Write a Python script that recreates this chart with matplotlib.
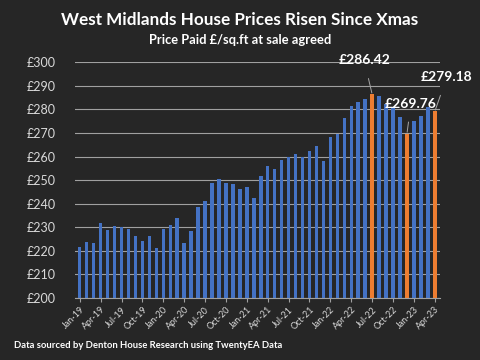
import numpy as np
import matplotlib
matplotlib.use("Agg")
import matplotlib.pyplot as plt

plt.rcParams['font.family'] = ['Lato', 'DejaVu Sans']

# monthly price paid £/sq.ft, Jan-19 .. Apr-23
months = ['Jan-19', 'Feb-19', 'Mar-19', 'Apr-19', 'May-19', 'Jun-19', 'Jul-19', 'Aug-19',
          'Sep-19', 'Oct-19', 'Nov-19', 'Dec-19', 'Jan-20', 'Feb-20', 'Mar-20', 'Apr-20',
          'May-20', 'Jun-20', 'Jul-20', 'Aug-20', 'Sep-20', 'Oct-20', 'Nov-20', 'Dec-20',
          'Jan-21', 'Feb-21', 'Mar-21', 'Apr-21', 'May-21', 'Jun-21', 'Jul-21', 'Aug-21',
          'Sep-21', 'Oct-21', 'Nov-21', 'Dec-21', 'Jan-22', 'Feb-22', 'Mar-22', 'Apr-22',
          'May-22', 'Jun-22', 'Jul-22', 'Aug-22', 'Sep-22', 'Oct-22', 'Nov-22', 'Dec-22',
          'Jan-23', 'Feb-23', 'Mar-23', 'Apr-23']
prices = [221.8, 223.8, 223.3, 232.0, 228.7, 230.6, 230.2, 229.4,
          226.4, 224.4, 226.5, 221.1, 229.3, 231.1, 234.1, 223.5,
          228.4, 238.7, 241.1, 248.9, 250.5, 248.6, 248.5, 246.3,
          246.9, 242.5, 251.7, 256.2, 254.7, 258.4, 259.9, 261.3,
          260.0, 262.2, 264.4, 258.3, 268.5, 269.5, 276.2, 281.6,
          283.3, 284.3, 286.42, 285.9, 282.4, 281.0, 276.8, 269.76,
          275.1, 277.1, 281.0, 279.18]
highlight = ['Jul-22', 'Dec-22', 'Apr-23']
# label offsets in pixels from the bar top
label_offsets = {'Jul-22': (-8, 34), 'Dec-22': (4, 30), 'Apr-23': (12, 34)}

bg = '#262626'
blue = '#4472C4'
orange = '#ED7D31'

fig = plt.figure(figsize=(4.8, 3.6), dpi=100, facecolor=bg)
ax = fig.add_axes([0.156, 0.172, 0.76, 0.655], facecolor=bg)

x = np.arange(len(months))
colors = [orange if m in highlight else blue for m in months]
ax.bar(x, prices, width=0.5, color=colors, zorder=3)

ax.set_ylim(200, 300)
ax.set_xlim(-0.7, len(months) - 0.3)
ax.set_yticks(np.arange(200, 301, 10))
ax.set_yticklabels(['£%d' % v for v in range(200, 301, 10)])
ax.yaxis.grid(True, color='#a0a0a0', lw=0.8, zorder=0)
ax.set_xticks(x[::3])
ax.set_xticklabels(months[::3], rotation=45, ha='right', rotation_mode='anchor')
ax.tick_params(axis='y', length=0, colors='#d9d9d9', labelsize=9, pad=14)
ax.tick_params(axis='x', length=3, color='#a0a0a0', colors='#d9d9d9', labelsize=6.5, pad=2)
for s in ['top', 'right', 'left']:
    ax.spines[s].set_visible(False)
ax.spines['bottom'].set_color('#a0a0a0')

for m in highlight:
    i = months.index(m)
    ax.annotate('£%.2f' % prices[i], xy=(i, prices[i]), xytext=label_offsets[m],
                textcoords='offset pixels', ha='center', va='center',
                color='white', fontsize=10, fontweight='bold',
                arrowprops=dict(arrowstyle='-', color='#a6a6a6', lw=0.7,
                                shrinkA=7, shrinkB=1))

fig.text(0.5, 0.945, 'West Midlands House Prices Risen Since Xmas', ha='center',
         va='center', color='white', fontsize=12.3, fontweight='bold')
fig.text(0.5, 0.888, 'Price Paid £/sq.ft at sale agreed', ha='center',
         va='center', color='white', fontsize=9.3, fontweight='bold')
fig.text(0.03, 0.04, 'Data sourced by Denton House Research using TwentyEA Data',
         ha='left', va='center', color='white', fontsize=6.8, fontweight='bold')

fig.savefig('out.png', dpi=100, facecolor=bg)
